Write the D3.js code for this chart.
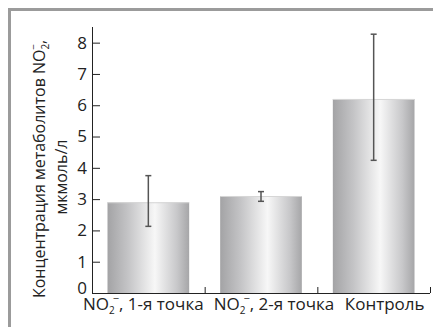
<!DOCTYPE html>
<html><head><meta charset="utf-8">
<script src="https://cdn.jsdelivr.net/npm/d3@7"></script>
<style>body{margin:0;background:#fff}svg{display:block;font-family:"Open Sans",sans-serif}</style>
</head><body>
<script>
const categories = ["NO2-, 1-я точка", "NO2-, 2-я точка", "Контроль"];
const values = [2.9, 3.1, 6.2];
const errLow = [2.13, 2.93, 4.24];
const errHigh = [3.75, 3.24, 8.27];
const yTicks = [0,1,2,3,4,5,6,7,8];
const labelShift = [-5, 13, 11];

const W=433,H=327;
const svg=d3.select("body").append("svg").attr("width",W).attr("height",H);
svg.append("path").attr("d",`M9.5,${H} V9.5 H${W}`).attr("fill","none").attr("stroke","#9b9b9b").attr("stroke-width",3);

const x0=92,x1=430,yb=293,yt=27;
const x=d3.scaleBand().domain(categories).range([x0,x1]).paddingInner(0).paddingOuter(0);
const pad=15.5;
const y=d3.scaleLinear().domain([0,8.5]).range([yb,yt]);

const defs=svg.append("defs");
const g=defs.append("linearGradient").attr("id","bg").attr("x1","0").attr("x2","1").attr("y1","0").attr("y2","0");
[[0,"#a3a3a5"],[0.25,"#c4c4c6"],[0.58,"#f7f7f7"],[0.85,"#c8c8ca"],[1,"#a6a6a8"]].forEach(s=>g.append("stop").attr("offset",s[0]).attr("stop-color",s[1]));

svg.selectAll("rect.bar").data(values).join("rect").attr("class","bar")
 .attr("x",(d,i)=>x(categories[i])+pad).attr("width",x.bandwidth()-2*pad)
 .attr("y",d=>y(d)).attr("height",d=>y(0)-y(d)).attr("fill","url(#bg)");
svg.selectAll("line.top").data(values).join("line").attr("class","top")
 .attr("x1",(d,i)=>x(categories[i])+pad).attr("x2",(d,i)=>x(categories[i])+x.bandwidth()-pad)
 .attr("y1",d=>y(d)+0.5).attr("y2",d=>y(d)+0.5).attr("stroke","#d6d6d6").attr("stroke-width",1);

const eg=svg.append("g").attr("stroke","#555").attr("stroke-width",1.5);
values.forEach((v,i)=>{
  const cx=x(categories[i])+x.bandwidth()/2;
  eg.append("line").attr("x1",cx).attr("x2",cx).attr("y1",y(errLow[i])).attr("y2",y(errHigh[i]));
  [errLow[i],errHigh[i]].forEach(e=>eg.append("line").attr("x1",cx-3).attr("x2",cx+3).attr("y1",y(e)).attr("y2",y(e)));
});

const ya=svg.append("g").attr("transform",`translate(${x0},0)`)
 .call(d3.axisRight(y).tickValues(yTicks).tickSize(8).tickFormat(d3.format("d")));
ya.select(".domain").attr("d",`M0.5,${yt}V${yb}`).attr("stroke","#222");
ya.selectAll(".tick line").attr("stroke","#222");
ya.selectAll(".tick text").attr("x",-5).attr("text-anchor","end").attr("font-size",17).attr("fill","#222").attr("font-family","Open Sans")
  .attr("dy",d=>d===0?"0em":"0.32em");

const xa=svg.append("g");
xa.append("line").attr("x1",x0).attr("x2",x1).attr("y1",yb+0.5).attr("y2",yb+0.5).attr("stroke","#222");
categories.forEach(c=>{
  const tx=x(c)+x.bandwidth();
  xa.append("line").attr("x1",tx+0.5).attr("x2",tx+0.5).attr("y1",yb).attr("y2",yb-6).attr("stroke","#222");
});
categories.forEach((c,i)=>{
  const t=svg.append("text").attr("x",x(c)+x.bandwidth()/2+labelShift[i]).attr("y",310).attr("text-anchor","middle")
    .attr("font-size",17).attr("fill","#222");
  if(c.startsWith("NO2-")){
    t.append("tspan").text("NO");
    t.append("tspan").text("2").attr("font-size",10).attr("dy",4);
    t.append("tspan").text("−").attr("font-size",11).attr("dx",-2).attr("dy",-12);
    t.append("tspan").text(c.slice(4)).attr("dy",8);
  } else t.text(c);
});

const yl=svg.append("text").attr("transform","translate(45,169) rotate(-90)").attr("text-anchor","middle")
  .attr("font-size",16).attr("fill","#222");
yl.append("tspan").text("Концентрация метаболитов NO");
yl.append("tspan").text("2").attr("font-size",10).attr("dy",4);
yl.append("tspan").text("−").attr("font-size",10).attr("dx",-6).attr("dy",-12);
yl.append("tspan").text(",").attr("dy",8);
svg.append("text").attr("transform","translate(67,177) rotate(-90)").attr("text-anchor","middle")
  .attr("font-size",16).attr("fill","#222").text("мкмоль/л");
</script>
</body></html>
